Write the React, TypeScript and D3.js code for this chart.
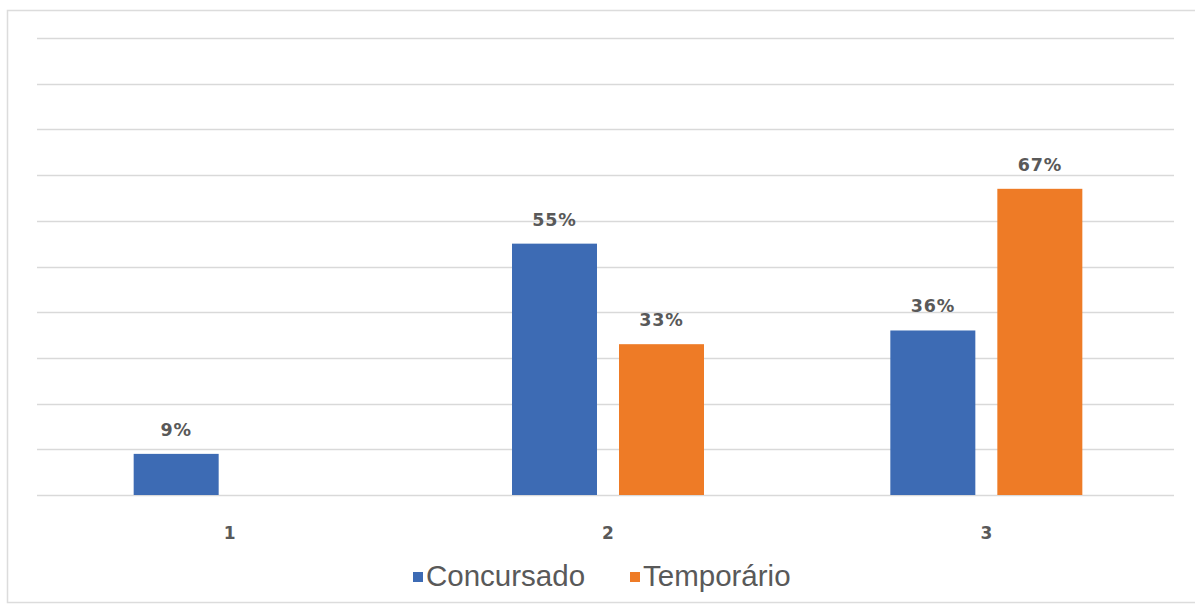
import React from "react";
import * as d3 from "d3";

const categories = ["1", "2", "3"];
const seriesNames = ["Concursado", "Temporário"];
const concursado: (number | null)[] = [9, 55, 36];
const temporario: (number | null)[] = [null, 33, 67];
const yTicks = [0, 10, 20, 30, 40, 50, 60, 70, 80, 90, 100];
const colors = ["#3d6bb4", "#ee7b26"];

export default function App() {
  const W = 1195, H = 606;
  const left = 39, right = 1174, top = 38, bottom = 495;
  const x = d3.scaleBand().domain(categories).range([left, right]).paddingInner(0).paddingOuter(0);
  const y = d3.scaleLinear().domain([0, 100]).range([bottom, top]);
  const series = [concursado, temporario];
  const barW = 85, gap = 22;
  const groupW = barW * 2 + gap;

  return (
    <svg width={W} height={H} style={{ position: "absolute", left: 0, top: 0 }}>
      <rect x={0} y={0} width={W} height={H} fill="#fff" />
      <rect x={7.5} y={10.5} width={W - 6} height={592} fill="none" stroke="#dcdcdc" strokeWidth={1.5} />
      {yTicks.map((t) => (
        <line key={t} x1={left - 2} x2={right} y1={Math.round(y(t)) + 0.5} y2={Math.round(y(t)) + 0.5} stroke="#d9d9d9" strokeWidth={1.3} />
      ))}
      {categories.map((c, i) => {
        const cx = (x(c) as number) + x.bandwidth() / 2 + 1.5;
        const gx = cx - groupW / 2;
        return (
          <g key={c}>
            {series.map((s, si) => {
              const v = s[i];
              if (v == null) return null;
              const bx = gx + si * (barW + gap);
              return (
                <g key={si}>
                  <rect x={bx} y={y(v)} width={barW} height={bottom - y(v)} fill={colors[si]} />
                  <text x={bx + barW / 2} y={y(v) - 18} textAnchor="middle" fontFamily="DejaVu Sans, sans-serif" fontWeight="bold" fontSize={17.5} letterSpacing={0.8} fill="#595959">
                    {v}%
                  </text>
                </g>
              );
            })}
            <text x={cx} y={539} textAnchor="middle" fontFamily="DejaVu Sans, sans-serif" fontWeight="bold" fontSize={17} fill="#595959">
              {c}
            </text>
          </g>
        );
      })}
      {seriesNames.map((n, i) => {
        const lx = i === 0 ? 413 : 630;
        return (
          <g key={n}>
            <rect x={lx} y={572} width={10} height={10} fill={colors[i]} />
            <text x={lx + 13} y={586} fontFamily="Liberation Sans, Arial, sans-serif" fontSize={29.5} fill="#595959">
              {n}
            </text>
          </g>
        );
      })}
    </svg>
  );
}
